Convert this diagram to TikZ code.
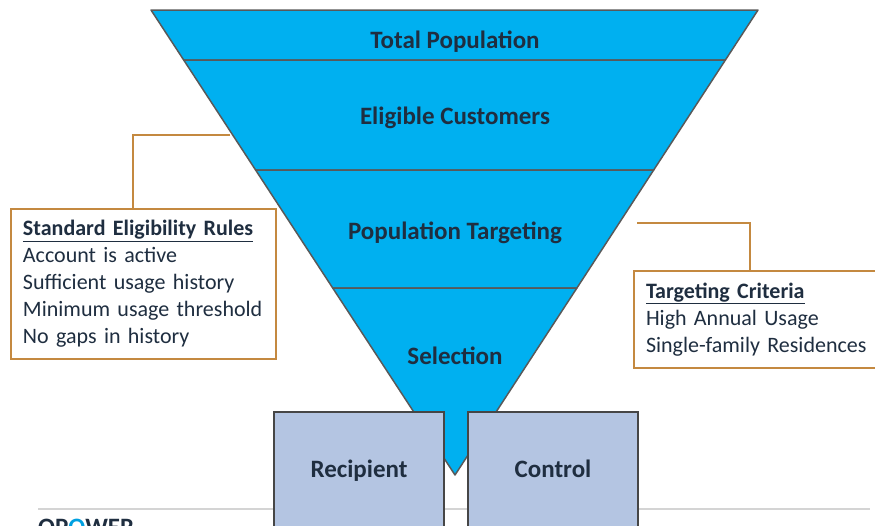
\documentclass[tikz,border=0pt]{standalone}
\usepackage{fontspec}
\setmainfont{Carlito}
\usetikzlibrary{positioning}
\definecolor{funnelblue}{RGB}{0,176,240}
\definecolor{funnelline}{RGB}{89,89,89}
\definecolor{labeltext}{RGB}{31,46,64}
\definecolor{groupfill}{RGB}{180,197,226}
\definecolor{groupline}{RGB}{70,70,70}
\definecolor{noteorange}{RGB}{196,137,64}
\definecolor{footgray}{RGB}{212,212,212}
\definecolor{logoblue}{RGB}{0,160,225}

\tikzset{
  band/.style={fill=funnelblue, draw=funnelline, line width=1.5pt, line join=round},
  bandlabel/.style={font=\fontsize{25}{30}\selectfont\bfseries, text=labeltext},
  groupbox/.style={fill=groupfill, draw=groupline, line width=2pt, anchor=north west,
    font=\fontsize{25}{30}\selectfont\bfseries, text=labeltext, text depth=16pt},
  notebox/.style={draw=noteorange, line width=2pt, fill=white, anchor=north west, align=left,
    font=\fontsize{22}{27}\selectfont, text=labeltext, inner xsep=12pt, inner ysep=5pt},
  conn/.style={draw=noteorange, line width=1.5pt}
}

\begin{document}
\begin{tikzpicture}[x=1pt, y=-1pt]
\useasboundingbox (0,0) rectangle (875,525);

% funnel bands
\draw[band] (151,10) -- (758,10) -- (725.4,60) -- (183.7,60) -- cycle;
\draw[band] (183.7,60) -- (725.4,60) -- (653.7,170) -- (255.6,170) -- cycle;
\draw[band] (255.6,170) -- (653.7,170) -- (576.9,288) -- (332.7,288) -- cycle;
\draw[band] (332.7,288) -- (576.9,288) -- (455,475) -- cycle;

\node[bandlabel] (total) at (455,42) {Total Population};
\node[bandlabel] (eligible) at (455,118) {Eligible Customers};
\node[bandlabel] (targeting) at (455,233) {Population Targeting};
\node[bandlabel] (selection) at (455,356) {Selection};

% footer
\coordinate (footl) at (38,509);
\coordinate (footr) at (870,509);
\draw[footgray, line width=1.2pt] (footl) -- (footr);
\node[anchor=north west, inner sep=0pt, font=\fontsize{25}{30}\selectfont\bfseries, text=labeltext] (logo)
  at (38,519) {OP\textcolor{logoblue}{O}WER};

% groups
\node[groupbox, minimum width=170pt, minimum height=130pt] (recipient) at (273,411) {Recipient};
\node[groupbox, minimum width=170pt, minimum height=130pt] (control) at (467,411) {Control};

% notes
\node[notebox, text width=241pt, minimum height=150pt] (rules) at (10,208)
  {\textbf{\underline{Standard Eligibility Rules}}\\ Account is active\\ Sufficient usage history\\
   Minimum usage threshold\\ No gaps in history};
\node[notebox, text width=241pt, minimum height=97pt] (criteria) at (633,270)
  {\textbf{\underline{Targeting Criteria}}\\ High Annual Usage\\ Single-family Residences};

\coordinate (ledge) at (230,135);
\coordinate (lknee) at (133,135);
\draw[conn] (ledge) -- (lknee) -- (lknee |- rules.north);
\coordinate (redge) at (637,223);
\coordinate (rknee) at (750,223);
\draw[conn] (redge) -- (rknee) -- (rknee |- criteria.north);
\end{tikzpicture}
\end{document}
